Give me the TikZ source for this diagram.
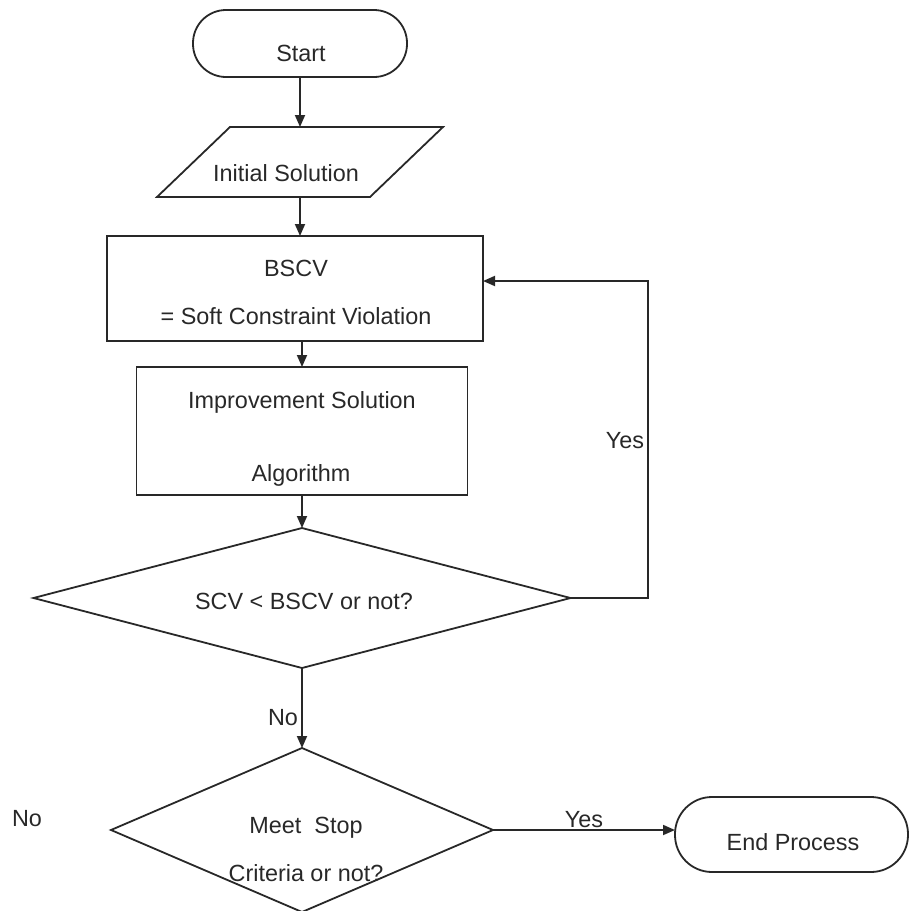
\documentclass[tikz,border=0pt]{standalone}
\usepackage{fontspec}
\setmainfont{Liberation Sans}
\usetikzlibrary{shapes.geometric,arrows.meta,calc}
\definecolor{ink}{RGB}{40,40,40}
\begin{document}
\begin{tikzpicture}[x=1pt,y=-1pt,
  every node/.style={inner sep=0pt, outer sep=0pt},
  line/.style={draw=ink, line width=1.8pt},
  flow/.style={line, -{Triangle[length=12pt,width=10pt]}},
  lbl/.style={text=ink, font=\fontsize{23.4}{28}\selectfont, text height=16.75pt, text depth=0pt},
  terminal/.style={line, rectangle, rounded corners=#1},
  procbox/.style={line, rectangle},
  decision/.style={line, diamond},
]
\useasboundingbox (0,0) rectangle (909,911);

% shapes
\node[terminal=33pt, minimum width=214pt, minimum height=67pt] (start) at (300,43.5) {};
\node[minimum width=213pt, minimum height=70pt] (init) at (300,162) {};
\draw[line, line join=miter] (230,127) -- (443,127) -- (370,197) -- (157,197) -- cycle;
\node[procbox, minimum width=376pt, minimum height=105pt] (bscv) at (295,288.5) {};
\node[procbox, minimum width=331pt, minimum height=128pt] (impr) at (302,431) {};
\node[decision, minimum width=537pt, minimum height=140pt] (d1) at (302,598) {};
\node[decision, minimum width=382pt, minimum height=164pt] (d2) at (302,830) {};
\node[terminal=37pt, minimum width=233pt, minimum height=75pt] (end) at (791.5,834.5) {};

% texts
\node[lbl] (tstart) at (301,53) {Start};
\node[lbl] (tinit) at (286,173) {Initial Solution};
\node[lbl] (tbscv1) at (296,268) {BSCV};
\node[lbl] (tbscv2) at (296,316) {= Soft Constraint Violation};
\node[lbl] (timpr1) at (302,400) {Improvement Solution};
\node[lbl] (timpr2) at (301,473) {Algorithm};
\node[lbl] (td1) at (304,601) {SCV < BSCV or not?};
\node[lbl] (td2a) at (306,825) {Meet~~Stop};
\node[lbl] (td2b) at (306,873) {Criteria or not?};
\node[lbl] (tend) at (793,842) {End Process};
\node[lbl] (tno) at (27,818) {No};
\node[lbl] (tyes1) at (625,440) {Yes};

% connectors
\draw[flow] (start.south) -- (init.north);
\draw[flow] (init.south) -- (init.south |- bscv.north);
\draw[flow] (impr.north |- bscv.south) -- (impr.north);
\draw[flow] (impr.south) -- (d1.north);
\draw[flow] (d1.south) -- node[lbl, pos=0.61, anchor=east, xshift=-4pt] (tno2) {No} (d2.north);
\draw[flow] (d2.east) -- node[lbl, midway, anchor=south, yshift=3pt] (tyes2) {Yes} (d2.east -| end.west);
\coordinate (fb) at (648,281);
\draw[flow] (d1.east) -| (fb) -- (fb -| bscv.east);
\end{tikzpicture}
\end{document}
